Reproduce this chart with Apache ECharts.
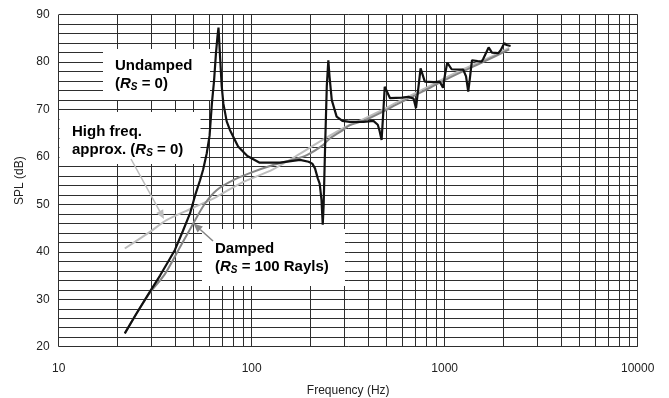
<!DOCTYPE html>
<html>
<head>
<meta charset="utf-8">
<script src="https://cdn.jsdelivr.net/npm/echarts@6/dist/echarts.min.js"></script>
<style>
html,body{margin:0;padding:0;background:#fff;}
#chart{width:669px;height:398px;}
</style>
</head>
<body>
<div id="chart"></div>
<script>
// ---- data ----
const undampedFreq = [22, 25.3, 29.7, 33.5, 36.5, 40, 44, 47.9, 51, 54, 56, 58.5, 60.5, 62.2, 63.8, 65.3, 66.5, 67.3, 68.4, 69.9, 71.3, 74.2, 77.1, 85, 95, 110, 140, 178, 197, 206, 212.8, 220, 225, 230, 233.4, 236, 240, 245, 249.5, 253, 260, 275.5, 295, 323, 380, 427, 450, 460, 471, 480, 489, 521, 600, 648, 690, 710, 730, 750, 789, 880, 941, 980, 1005, 1031, 1086, 1197, 1248, 1290, 1324, 1350, 1385, 1480, 1553, 1580, 1689, 1757, 1897, 1950, 2036, 2094, 2195];
const undampedSPL  = [22.8, 27.0, 31.6, 35.0, 37.6, 40.4, 44.4, 48.1, 52.0, 55.1, 57.3, 60.8, 64.5, 71.3, 76.0, 81.9, 85.5, 87.3, 81.9, 75.0, 71.3, 67.5, 65.7, 62.2, 60.2, 58.8, 58.8, 59.4, 59.0, 58.6, 57.6, 55.5, 54.4, 50.9, 45.7, 50.0, 62.0, 75.0, 80.4, 77.0, 72.0, 68.5, 67.6, 67.4, 67.4, 67.6, 66.8, 65.5, 63.6, 69.0, 74.8, 72.4, 72.5, 72.7, 72.3, 70.3, 74.5, 78.7, 75.9, 75.8, 75.9, 74.6, 77.5, 79.9, 78.5, 78.4, 78.4, 77.0, 73.8, 76.5, 80.4, 80.2, 80.1, 80.6, 83.1, 82.0, 81.9, 82.5, 84.0, 83.6, 83.4];

const dampedFreq = [22, 25.3, 29.7, 35.5, 42, 49.8, 57.3, 65.8, 80.2, 97.8, 129, 160, 193, 234, 254, 290, 323, 379, 470, 565, 700, 839, 1000, 1248, 1500, 1860, 2160];
const dampedSPL  = [22.8, 27.0, 31.4, 35.3, 40.6, 46.0, 50.2, 53.0, 55.1, 56.6, 58.3, 59.3, 60.4, 62.5, 63.9, 65.4, 66.7, 67.6, 69.4, 71.1, 73.0, 74.6, 76.2, 78.1, 79.6, 81.4, 82.7];

const hfFreq = [22, 29.7, 36.2, 49.8, 65.8, 87, 129, 180, 210, 254, 323, 379, 470, 565, 700, 839, 1000, 1248, 1500, 1860, 2160];
const hfSPL  = [40.7, 44.2, 46.7, 49.3, 51.6, 54.4, 57.4, 60.8, 62.5, 64.5, 66.8, 68.0, 69.8, 71.5, 73.4, 75.0, 76.6, 78.5, 80.0, 81.7, 83.0];

const xTickLabels = ['10', '100', '1000', '10000'];
const minorFreqs = [];
[10, 100, 1000].forEach(d => { for (let k = 2; k <= 9; k++) minorFreqs.push(k * d); });

const zip = (a, b) => a.map((v, i) => [v, b[i]]);

// ---- chart ----
const chart = echarts.init(document.getElementById('chart'), null, {renderer: 'canvas'});
const GRID = '#2e2e2e';
const FONT = 'Liberation Sans, Arial, sans-serif';

const gridL = 58.7, gridT = 14.7, gridR = 31.3, gridB = 51.3;

function arrow(x1, y1, x2, y2, color, w) {
  const ang = Math.atan2(y2 - y1, x2 - x1);
  const L = 9, W = 4;
  const bx = x2 - L * Math.cos(ang), by = y2 - L * Math.sin(ang);
  const px = -Math.sin(ang) * W, py = Math.cos(ang) * W;
  return [
    {type: 'line', z: 20, shape: {x1: x1, y1: y1, x2: bx, y2: by}, style: {stroke: color, lineWidth: w}},
    {type: 'polygon', z: 20, shape: {points: [[x2, y2], [bx + px, by + py], [bx - px, by - py]]}, style: {fill: color}}
  ];
}

function richStyles(color) {
  return {
    b: {fontFamily: FONT, fontWeight: 'bold', fontSize: 15, color: color, lineHeight: 18},
    i: {fontFamily: FONT, fontWeight: 'bold', fontStyle: 'italic', fontSize: 15, color: color, lineHeight: 18},
    s: {fontFamily: FONT, fontWeight: 'bold', fontStyle: 'italic', fontSize: 10, color: color, lineHeight: 18, padding: [7, 0, 0, 0]}
  };
}

const LIGHT = '#bdbdbd', MID = '#858585', DARK = '#111111';

const option = {
  animation: false,
  backgroundColor: '#ffffff',
  grid: {left: gridL, top: gridT, right: gridR, bottom: gridB, containLabel: false, outerBoundsMode: 'none'},
  xAxis: {
    type: 'log', logBase: 10, min: 10, max: 10000, splitNumber: 3,
    name: 'Frequency (Hz)', nameLocation: 'middle', nameGap: 38,
    nameTextStyle: {fontFamily: FONT, fontSize: 12, color: '#222'},
    axisLine: {show: false}, axisTick: {show: false},
    axisLabel: {fontFamily: FONT, fontSize: 12, color: '#222', margin: 16,
      formatter: v => { const s = String(Math.round(v)); return xTickLabels.indexOf(s) >= 0 ? s : ''; }},
    splitLine: {show: true, lineStyle: {color: GRID, width: 1}}
  },
  yAxis: {
    type: 'value', min: 20, max: 90, interval: 10,
    name: 'SPL (dB)', nameLocation: 'middle', nameGap: 31,
    nameTextStyle: {fontFamily: FONT, fontSize: 12, color: '#222'},
    axisLine: {show: false}, axisTick: {show: false},
    axisLabel: {fontFamily: FONT, fontSize: 12, color: '#222', margin: 9},
    splitLine: {show: true, lineStyle: {color: GRID, width: 1}},
    minorTick: {show: false, splitNumber: 5},
    minorSplitLine: {show: true, lineStyle: {color: GRID, width: 1}}
  },
  graphic: [
    {type: 'rect', z: 3, shape: {x: 103, y: 49, width: 107, height: 51}, style: {fill: '#fff'}},
    {type: 'rect', z: 3, shape: {x: 59.5, y: 112, width: 141, height: 52}, style: {fill: '#fff'}},
    {type: 'rect', z: 3, shape: {x: 202, y: 229, width: 143, height: 57}, style: {fill: '#fff'}},
    {type: 'text', z: 30, style: {x: 115, y: 57, text: '{b|Undamped}\n{b|(}{i|R}{s|S}{b| = 0)}', rich: richStyles(DARK)}},
    {type: 'text', z: 30, style: {x: 72, y: 123, text: '{b|High freq.}\n{b|approx. (}{i|R}{s|S}{b| = 0)}', rich: richStyles(LIGHT)}},
    {type: 'text', z: 30, style: {x: 215, y: 240, text: '{b|Damped}\n{b|(}{i|R}{s|S}{b| = 100 Rayls)}', rich: richStyles(MID)}},
    ...arrow(131, 159, 164, 219, LIGHT, 1.5),
    ...arrow(213, 241, 193.5, 223.5, MID, 1.5)
  ],
  series: [
    {
      type: 'line', name: 'grid', z: 1, data: [], silent: true,
      markLine: {
        z: 1, silent: true, symbol: ['none', 'none'], label: {show: false}, animation: false,
        lineStyle: {color: GRID, width: 1, type: 'solid'},
        data: minorFreqs.map(f => ({xAxis: f}))
      }
    },
    {type: 'line', name: 'High freq. approx.', z: 5, data: zip(hfFreq, hfSPL), showSymbol: false, smooth: 0.3,
      lineStyle: {color: LIGHT, width: 2}},
    {type: 'line', name: 'Damped', z: 6, data: zip(dampedFreq, dampedSPL), showSymbol: false, smooth: 0.3,
      lineStyle: {color: MID, width: 2}},
    {type: 'line', name: 'Undamped', z: 7, data: zip(undampedFreq, undampedSPL), showSymbol: false, smooth: false,
      lineStyle: {color: DARK, width: 2.2}}
  ]
};
chart.setOption(option);
</script>
</body>
</html>
